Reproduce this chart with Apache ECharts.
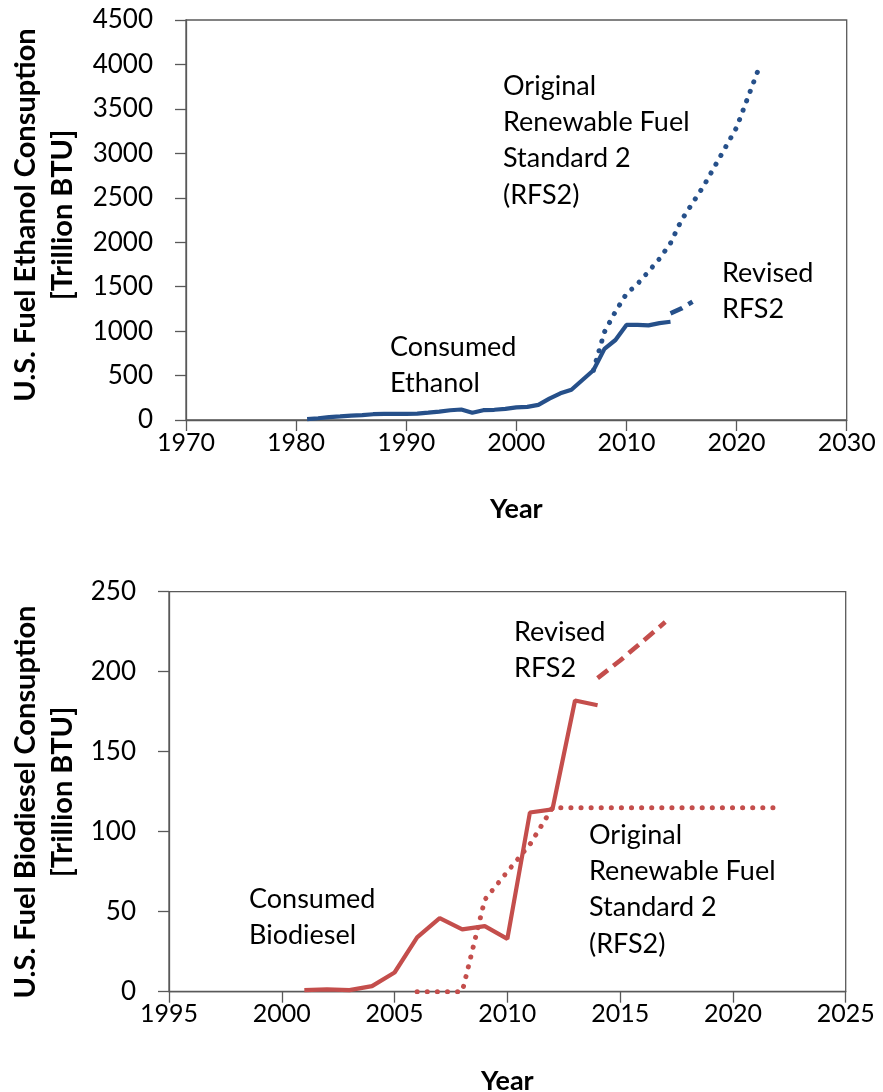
<!DOCTYPE html>
<html><head><meta charset="utf-8">
<script src="https://cdn.jsdelivr.net/npm/echarts@6/dist/echarts.min.js"></script>
<style>html,body{margin:0;padding:0;background:#fff}#c{width:883px;height:1092px}</style>
</head><body><div id="c"></div>
<script>
// ---- Ethanol (top chart) ----
const ethanolYears = [1981,1982,1983,1984,1985,1986,1987,1988,1989,1990,1991,1992,1993,1994,1995,1996,1997,1998,1999,2000,2001,2002,2003,2004,2005,2006,2007,2008,2009,2010,2011,2012,2013,2014];
const ethanolConsumed = [10,20,33,40,50,55,65,68,70,70,72,83,95,110,118,82,110,115,125,142,148,170,240,300,340,450,560,800,900,1070,1070,1065,1090,1105];
const ethanolRevisedYears = [2014,2015,2016];
const ethanolRevised = [1200,1255,1330];
const ethanolOriginalYears = [2007,2008,2009,2010,2011,2012,2013,2014,2015,2016,2017,2018,2019,2020,2021,2022];
const ethanolOriginal = [560,990,1220,1420,1530,1670,1815,1990,2250,2440,2630,2850,3070,3290,3620,3950];
const ethanolXTicks = {min:1970, max:2030, step:10};
const ethanolYTicks = {min:0, max:4500, step:500};

// ---- Biodiesel (bottom chart) ----
const biodieselYears = [2001,2002,2003,2004,2005,2006,2007,2008,2009,2010,2011,2012,2013,2014];
const biodieselConsumed = [1,1.5,1,3.5,12,34,46,39,41,33,112,114,182,179];
const biodieselRevisedYears = [2014,2015,2016,2017];
const biodieselRevised = [196,207,219,231];
const biodieselOriginalYears = [2006,2007,2008,2009,2010,2011,2012,2013,2014,2015,2016,2017,2018,2019,2020,2021,2022];
const biodieselOriginal = [0,0,0,57.5,75,92,115,115,115,115,115,115,115,115,115,115,115];
const biodieselXTicks = {min:1995, max:2025, step:5};
const biodieselYTicks = {min:0, max:250, step:50};

const BLUE = '#26508a';
const RED = '#c44e4c';
const AXIS = '#595959';
const FONT = 'Lato, "Open Sans", sans-serif';

const pairs = (xs, ys) => xs.map((x, i) => [x, ys[i]]);
const plain = v => String(v);

function xAxisFor(ticks, gridIndex) {
  return {
    type: 'value', gridIndex, min: ticks.min, max: ticks.max, interval: ticks.step,
    splitLine: {show: false},
    axisLine: {show: true, onZero: false, lineStyle: {color: AXIS, width: 1.3}},
    axisTick: {show: true, length: 11, lineStyle: {color: AXIS, width: 1.3}},
    axisLabel: {fontFamily: FONT, fontSize: 25, color: '#000', margin: 10, formatter: plain},
    name: 'Year', nameLocation: 'middle', nameGap: 76,
    nameTextStyle: {fontFamily: FONT, fontSize: 27, fontWeight: 'bold', color: '#000'}
  };
}
function yAxisFor(ticks, gridIndex) {
  return {
    type: 'value', gridIndex, min: ticks.min, max: ticks.max, interval: ticks.step,
    splitLine: {show: false},
    axisLine: {show: true, lineStyle: {color: AXIS, width: 1.3}},
    axisTick: {show: true, length: 11, lineStyle: {color: AXIS, width: 1.3}},
    axisLabel: {fontFamily: FONT, fontSize: 26, color: '#000', margin: 33, formatter: plain}
  };
}
function lineSeries(data, color, kind, idx) {
  const ls = {color, width: 4.2};
  if (kind === 'dotted') { ls.type = [0.1, 10]; ls.cap = 'round'; ls.width = 5; }
  if (kind === 'dashed') { ls.type = [13, 7]; ls.cap = 'butt'; ls.width = 4.6; }
  return {type: 'line', xAxisIndex: idx, yAxisIndex: idx, data, showSymbol: false,
          symbol: 'none', lineStyle: ls, silent: true, animation: false, z: kind === 'solid' ? 3 : 2};
}
function label(text, x, y) {
  return {type: 'text', x, y, silent: true,
          style: {text, font: '27px ' + FONT, fill: '#000', lineHeight: 36.3, verticalAlign: 'top', align: 'left'}};
}
function yName(text, x, y) {
  return {type: 'text', x, y, rotation: Math.PI / 2, silent: true,
          style: {text, font: 'bold 29px ' + FONT, fill: '#000', align: 'center', verticalAlign: 'middle'}};
}

const chart = echarts.init(document.getElementById('c'), null, {renderer: 'canvas'});
chart.setOption({
  animation: false,
  backgroundColor: '#fff',
  grid: [
    {left: 186, top: 20, width: 660.7, height: 400, show: true, borderColor: AXIS, borderWidth: 1.3, backgroundColor: 'transparent', containLabel: false, outerBoundsMode: 'none'},
    {left: 169, top: 591.7, width: 676.7, height: 400, show: true, borderColor: AXIS, borderWidth: 1.3, backgroundColor: 'transparent', containLabel: false, outerBoundsMode: 'none'}
  ],
  xAxis: [xAxisFor(ethanolXTicks, 0), xAxisFor(biodieselXTicks, 1)],
  yAxis: [yAxisFor(ethanolYTicks, 0), yAxisFor(biodieselYTicks, 1)],
  series: [
    lineSeries(pairs(ethanolOriginalYears, ethanolOriginal), BLUE, 'dotted', 0),
    lineSeries(pairs(ethanolRevisedYears, ethanolRevised), BLUE, 'dashed', 0),
    lineSeries(pairs(ethanolYears, ethanolConsumed), BLUE, 'solid', 0),
    lineSeries(pairs(biodieselOriginalYears, biodieselOriginal), RED, 'dotted', 1),
    lineSeries(pairs(biodieselRevisedYears, biodieselRevised), RED, 'dashed', 1),
    lineSeries(pairs(biodieselYears, biodieselConsumed), RED, 'solid', 1)
  ],
  graphic: [
    label('Original\nRenewable Fuel\nStandard 2\n(RFS2)', 503, 68),
    label('Revised\nRFS2', 722, 255),
    label('Consumed\nEthanol', 390, 329),
    label('Revised\nRFS2', 514, 614),
    label('Original\nRenewable Fuel\nStandard 2\n(RFS2)', 589, 817),
    label('Consumed\nBiodiesel', 249, 881),
    yName('U.S. Fuel Ethanol Consuption', 26, 215),
    yName('[Trillion BTU]', 63, 215),
    yName('U.S. Fuel Biodiesel Consuption', 26, 802),
    yName('[Trillion BTU]', 63, 792)
  ]
});
</script></body></html>
